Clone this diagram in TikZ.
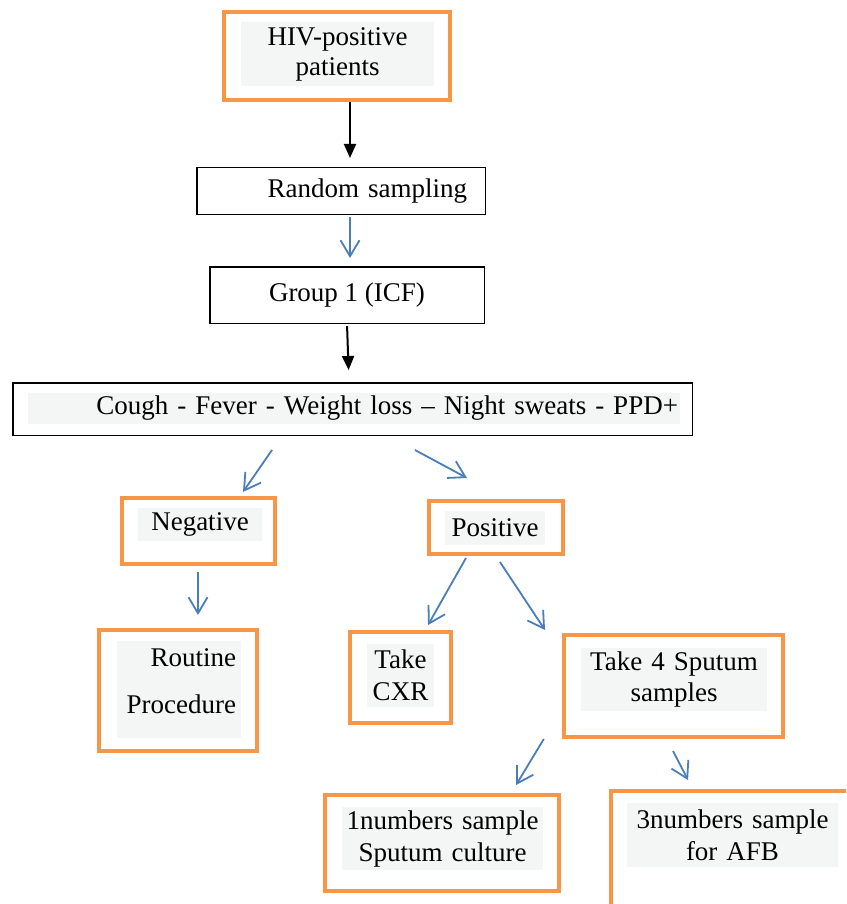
\documentclass[tikz,border=0pt]{standalone}
\usepackage{fontspec}
\setmainfont{Liberation Serif}
\usepackage{xcolor}
\usetikzlibrary{arrows.meta,positioning}
\definecolor{boxorange}{RGB}{247,150,70}
\definecolor{arrowblue}{RGB}{74,126,187}
\definecolor{panelgray}{RGB}{244,246,245}
\tikzset{
  plainbox/.style={draw, line width=1.5pt, align=center},
  framebox/.style={draw=boxorange, line width=4pt},
  panel/.style={fill=panelgray, align=center, inner sep=0pt, outer sep=0pt},
  arrow/.style={-{Triangle[length=14pt,width=12pt]}, line width=2pt},
  bluearrow/.style={-{Straight Barb[length=16pt,width=19pt]}, draw=arrowblue, line width=1.8pt}
}

\begin{document}
\begin{tikzpicture}[font=\fontsize{27pt}{32pt}\selectfont]
  \useasboundingbox (0,0) rectangle (846pt,-904pt);
  \clip (0,0) rectangle (846pt,-904pt);

  % main column
  \node[framebox, minimum width=226pt, minimum height=88pt] (hiv) at (337pt,-56pt) {};
  \node[plainbox, below=65pt of hiv, xshift=4pt, minimum width=288.5pt, minimum height=46.5pt,
    text width=252pt, align=right, inner xsep=17pt] (random) {Random sampling};
  \node[plainbox, below=51pt of random, xshift=6pt, minimum width=274.5pt, minimum height=56.5pt] (group) {Group 1 (ICF)};
  \node[plainbox, below=58pt of group, xshift=5.5pt, minimum width=679.5pt, minimum height=52.5pt] (cough) {};

  % branches
  \node[framebox, below=60pt of cough, xshift=-154pt, minimum width=153pt, minimum height=66pt] (negative) {};
  \node[framebox, below=63pt of cough, xshift=143.5pt, minimum width=134pt, minimum height=53pt] (positive) {};
  \node[framebox, below=62pt of negative, xshift=-20.5pt, minimum width=158pt, minimum height=121pt] (routine) {};
  \node[framebox, below=74pt of positive, xshift=-95.5pt, minimum width=101pt, minimum height=91pt] (cxr) {};
  \node[framebox, below=77pt of positive, xshift=177.5pt, minimum width=219pt, minimum height=102pt] (sputum) {};
  \node[framebox, below=54pt of sputum, xshift=-231.5pt, minimum width=234pt, minimum height=96pt] (numone) {};
  \node[framebox, below=50pt of sputum, xshift=85.5pt, minimum width=296pt, minimum height=166pt] (numthree) {};

  % grey text panels
  \node[panel, below right=12pt and 19pt of hiv.north west, text width=193pt, minimum height=64pt] (hivtext) {HIV-positive\\[-2pt]patients};
  \node[panel, below right=11pt and 16pt of cough.north west, text width=648pt, inner xsep=2pt, align=right,
    minimum height=31pt] (coughtext) {Cough - Fever - Weight loss – Night sweats - PPD+};
  \node[panel, below right=12pt and 18pt of negative.north west, text width=124pt, minimum height=33pt] (negtext) {Negative};
  \node[panel, below right=12pt and 18pt of positive.north west, text width=100pt, minimum height=34pt] (postext) {Positive};
  \node[panel, below right=13pt and 20pt of routine.north west, text width=114pt, inner xsep=5pt, align=right,
    minimum height=97pt] (routinetext) {Routine\\[15pt]Procedure\\[-16pt]\mbox{}};
  \node[panel, below right=14pt and 19pt of cxr.north west, text width=67pt, minimum height=63pt] (cxrtext) {Take\\CXR};
  \node[panel, below right=15pt and 19pt of sputum.north west, text width=186pt, minimum height=63pt] (sputumtext) {Take 4 Sputum\\samples};
  \node[panel, below right=14pt and 19pt of numone.north west, text width=201pt, minimum height=63pt] (numonetext) {1numbers sample\\Sputum culture};
  \node[panel, below right=14pt and 18pt of numthree.north west, text width=211pt, minimum height=64pt] (numthreetext) {3numbers sample\\for AFB};

  % connectors
  \draw[arrow, shorten >=9pt] ([xshift=13pt]hiv.south) -- ([xshift=9pt]random.north);
  \draw[bluearrow, shorten <=2pt, shorten >=8pt] ([xshift=9pt]random.south) -- ([xshift=3pt]group.north);
  \draw[arrow, shorten <=2pt, shorten >=12pt] (group.south) -- ([xshift=-3.5pt]cough.north);
  \draw[bluearrow, shorten <=17pt, shorten >=5pt] ([xshift=-70.8pt]cough.south) -- ([xshift=41.7pt]negative.north);
  \draw[bluearrow, shorten <=29.5pt, shorten >=44.3pt] ([xshift=36.5pt]cough.south) -- ([xshift=10pt]positive.north);
  \draw[bluearrow, shorten <=6pt, shorten >=13pt] ([xshift=-0.5pt]negative.south) -- ([xshift=20pt]routine.north);
  \draw[bluearrow, shorten <=2.3pt, shorten >=5.7pt] ([xshift=-28.9pt]positive.south) -- ([xshift=24.7pt]cxr.north);
  \draw[bluearrow, shorten <=7.2pt, shorten >=3.6pt] (positive.south) -- ([xshift=-126.5pt]sputum.north);
  \draw[bluearrow, shorten >=9.3pt] ([xshift=-129.7pt]sputum.south) -- ([xshift=69.2pt]numone.north);
  \draw[bluearrow, shorten <=13.5pt, shorten >=10.1pt] ([xshift=-6.7pt]sputum.south) -- ([xshift=-66.3pt]numthree.north);
\end{tikzpicture}
\end{document}
